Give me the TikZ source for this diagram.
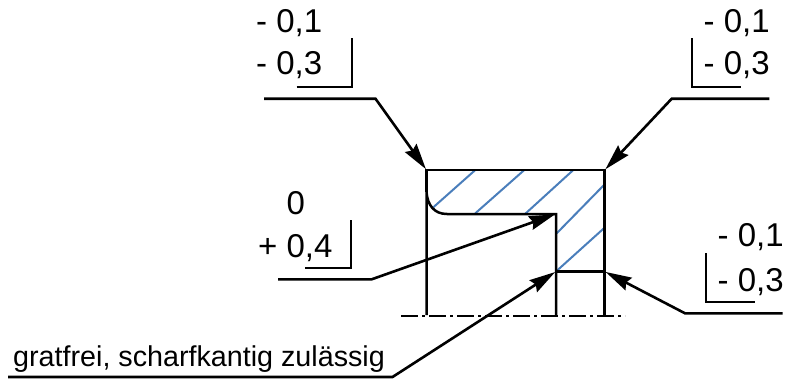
\documentclass[tikz,border=0pt]{standalone}
\usepackage{fontspec}
\setmainfont{Liberation Sans}
\usetikzlibrary{arrows.meta}
\definecolor{hatchblue}{HTML}{4A7EBB}
\tikzset{
 x=1pt,y=-1pt,
 body/.style={draw=black,line width=2.5pt,line cap=butt},
 thin body/.style={draw=black,line width=2.1pt},
 leader/.style={draw=black,line width=2.6pt,-{Stealth[length=26pt,width=14pt,inset=3pt]},line join=miter,shorten >=1pt},
 bracket/.style={draw=black,line width=2.3pt,line join=miter},
 hatch/.style={draw=hatchblue,line width=2pt},
 centerl/.style={draw=black,line width=1.7pt,dash pattern=on 17pt off 4pt on 3pt off 4pt},
 tol/.style={inner sep=0pt,anchor=base west,font=\fontsize{33}{33}\selectfont},
 note/.style={inner sep=0pt,anchor=base west,font=\fontsize{28.7}{29}\selectfont},
}
\begin{document}
\begin{tikzpicture}
\useasboundingbox (0,0) rectangle (786,378);
% part corners
\coordinate (tl) at (426.5,170);
\coordinate (tr) at (604.7,170);
\coordinate (inner) at (556,214);
\coordinate (step) at (556,271.5);
\coordinate (stepr) at (604.7,271.5);
\coordinate (bl) at (426.5,315);
\coordinate (bm) at (556,315);
\coordinate (br) at (604.7,315);
% hatching
\draw[hatch] (433.3,207.3) -- (475.3,170);
\draw[hatch] (475.3,213.3) -- (524.3,170);
\draw[hatch] (525,214) -- (573.3,170);
\draw[hatch] (556.7,233.3) -- (604,185);
\draw[hatch] (step) -- (605,227.3);
% outline
\draw[body] (bl) -- (426.5,192) .. controls (427.5,205) and (434,214) .. (447,214) -- (inner) -- (bm);
\draw[body,line join=miter] (tl) -- (tr) -- (br);
\draw[body] (425.25,170) -- (tr);
\draw[body] (tl) -- (426.5,192);
\draw[thin body] (step) -- (stepr);
% centre line
\coordinate (cl1) at (401,316);
\coordinate (cl2) at (625,316);
\draw[centerl] (cl1) -- (cl2);
% labels
\node[tol] (a1) at (256,32.5) {- 0,1};
\node[tol] (a2) at (256,74) {- 0,3};
\node[tol] (b1) at (703.5,32.5) {- 0,1};
\node[tol] (b2) at (703.5,74) {- 0,3};
\node[tol] (c1) at (717.5,246.2) {- 0,1};
\node[tol] (c2) at (717.5,291) {- 0,3};
\node[tol] (d1) at (286.5,214.5) {0};
\node[tol] (d2) at (258,257.5) {+ 0,4};
\node[note] (e) at (13,366.5) {gratfrei, scharfkantig zulässig};
% brackets
\draw[bracket] (296.7,87.3) -- (351.7,87.3) -- (351.7,38.3);
\draw[bracket] (692.3,38) -- (692.3,87.3) -- (740.7,87.3);
\draw[bracket] (305,268.3) -- (351,268.3) -- (351,220);
\draw[bracket] (706,253.3) -- (706,301.7) -- (755,301.7);
% leaders
\coordinate (la) at (264,98.7); \coordinate (lak) at (375.5,98.7);
\coordinate (lb) at (769.3,98.7); \coordinate (lbk) at (671.7,98.7);
\coordinate (lc) at (782.7,313.3); \coordinate (lck) at (685,313.3);
\coordinate (ld) at (278,279.3); \coordinate (ldk) at (371.7,279.3);
\coordinate (le) at (8,377); \coordinate (lek) at (392.5,377);
\draw[leader] (la) -- (lak) -- (tl);
\draw[leader] (lb) -- (lbk) -- (tr);
\draw[leader] (lc) -- (lck) -- (stepr);
\draw[leader] (ld) -- (ldk) -- (inner);
\draw[leader] (le) -- (lek) -- (step);
\end{tikzpicture}
\end{document}
